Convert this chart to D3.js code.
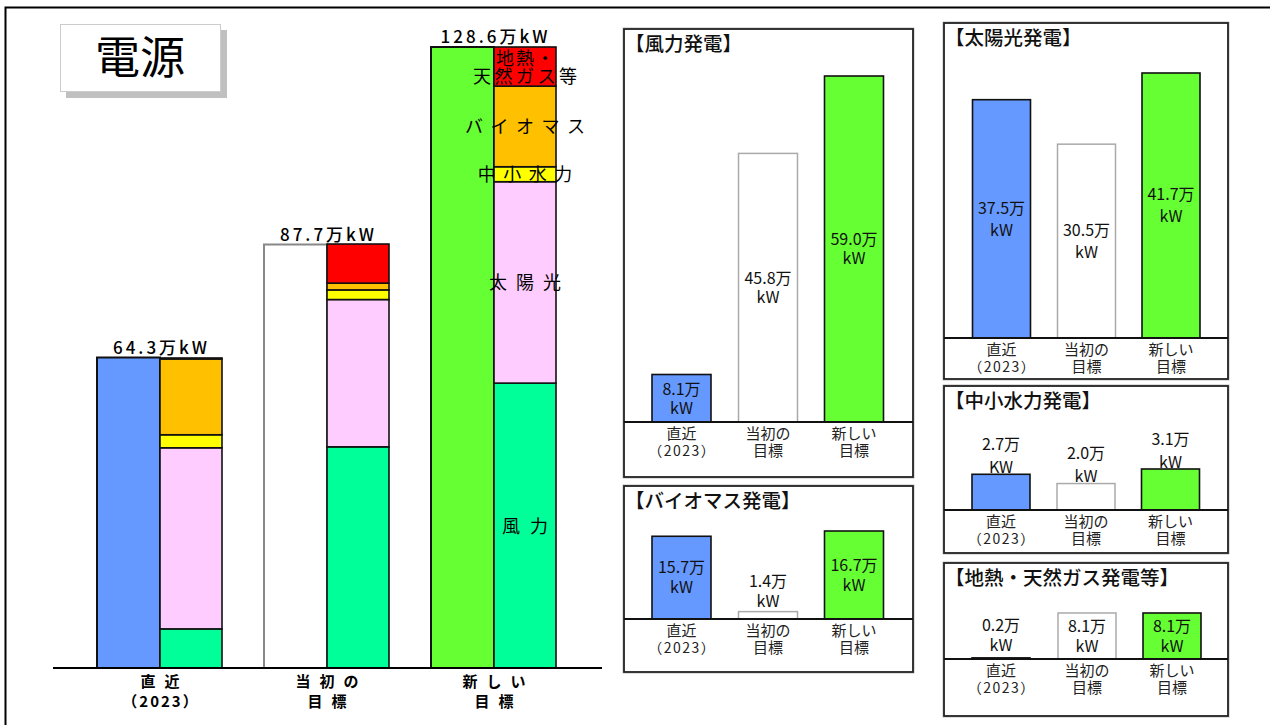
<!DOCTYPE html>
<html><head><meta charset="utf-8">
<script src="https://cdn.jsdelivr.net/npm/d3@7"></script>
<style>
body{margin:0;background:#fff}
svg{display:block}
text{font-family:"Noto Sans CJK JP","Noto Sans",sans-serif;fill:#000}
</style>
</head><body>
<svg id="c" width="1270" height="725"></svg>
<script>
// ---------- data ----------
const categories = ["直近", "当初の目標", "新しい目標"];
const categoryLines = [["直近", "（2023）"], ["当初の", "目標"], ["新しい", "目標"]];
const sources = ["風力", "太陽光", "中小水力", "バイオマス", "地熱・天然ガス等"];
const wind    = [8.1, 45.8, 59.0];
const solar   = [37.5, 30.5, 41.7];
const hydro   = [2.7, 2.0, 3.1];
const biomass = [15.7, 1.4, 16.7];
const geo     = [0.2, 8.1, 8.1];
const totals  = [64.3, 87.7, 128.6];
const hydroUnits = ["KW", "kW", "kW"];

// ---------- styles ----------
const totalColors  = ["#6699FF", "#FFFFFF", "#66FF33"];
const totalStroke  = ["#111", "#888", "#111"];
const sourceColors = ["#00FF99", "#FFCCFF", "#FFFF00", "#FFC000", "#FF0000"];

const svg = d3.select("#c");

// outer frame
svg.append("path").attr("d", "M5.5,730V7.5H1280").attr("fill", "none")
  .attr("stroke", "#000").attr("stroke-width", 2);

// title box
svg.append("rect").attr("x", 66).attr("y", 30).attr("width", 161).attr("height", 68).attr("fill", "#c0c0c0");
svg.append("rect").attr("x", 60.5).attr("y", 24.5).attr("width", 160).attr("height", 67)
  .attr("fill", "#fff").attr("stroke", "#ccc").attr("stroke-width", 1);
svg.append("text").attr("x", 140).attr("y", 58).attr("dy", "0.36em").attr("text-anchor", "middle")
  .style("font-size", "45px").text("電源");

// ---------- main stacked chart ----------
const x = d3.scalePoint().domain(categories).range([160, 494]);
const y = d3.scaleLinear().domain([0, 128.6]).range([668, 47]);
const barW = 62;

const seriesArr = [wind, solar, hydro, biomass, geo];
const table = categories.map((c, i) => {
  const o = {cat: c};
  sources.forEach((s, j) => o[s] = seriesArr[j][i]);
  return o;
});
const stacked = d3.stack().keys(sources)(table);

const main = svg.append("g");

// total bars
main.selectAll("rect.total").data(categories).join("rect").attr("class", "total")
  .attr("x", c => x(c) - barW - 1).attr("width", barW + 1)
  .attr("y", (c, i) => y(totals[i])).attr("height", (c, i) => y(0) - y(totals[i]))
  .attr("fill", (c, i) => totalColors[i]).attr("stroke", (c, i) => totalStroke[i]).attr("stroke-width", 2);

// stacked segments
stacked.forEach((layer, j) => {
  main.selectAll(null).data(layer).join("rect")
    .attr("x", d => x(d.data.cat)).attr("width", barW)
    .attr("y", d => y(d[1])).attr("height", d => Math.max(0, y(d[0]) - y(d[1])))
    .attr("fill", sourceColors[j]).attr("stroke", "#111").attr("stroke-width", 1.6);
});

// baseline
main.append("line").attr("x1", 53).attr("x2", 602).attr("y1", y(0)).attr("y2", y(0))
  .attr("stroke", "#000").attr("stroke-width", 2);

// totals labels
main.selectAll("text.tot").data(categories).join("text").attr("class", "tot")
  .attr("x", c => x(c) + 1.5).attr("y", (c, i) => y(totals[i]) - 4)
  .attr("text-anchor", "middle").style("font-size", "17px").style("letter-spacing", "3px")
  .style("font-weight", "500")
  .text((c, i) => totals[i].toFixed(1) + "万kW");

// category labels
categories.forEach((c, i) => {
  categoryLines[i].forEach((t, k) => {
    const isYear = (i === 0 && k === 1);
    const ls = isYear ? 2 : 9;
    main.append("text").attr("x", x(c) + ls / 2).attr("y", 682 + k * 19.5).attr("dy", "0.36em")
      .attr("text-anchor", "middle").style("font-size", "15px")
      .style("letter-spacing", ls + "px")
      .style("font-weight", "bold").text(t);
  });
});

// segment labels on the new target stack
const segLabels = [["風力"], ["太陽光"], ["中小水力"], ["バイオマス"], ["地熱・", "天然ガス等"]];
const segSpacing = [[10], [9], [7.5], [7.5], [2, 3.5]];
const lastCat = categories[2];
stacked.forEach((layer, j) => {
  const d = layer[2];
  const mid = (y(d[0]) + y(d[1])) / 2;
  const lines = segLabels[j];
  lines.forEach((t, k) => {
    const ls = segSpacing[j][k];
    main.append("text")
      .attr("x", x(lastCat) + barW / 2 + ls / 2)
      .attr("y", mid + 0.5 + (k - (lines.length - 1) / 2) * 18).attr("dy", "0.36em")
      .attr("text-anchor", "middle").style("font-size", "18px").style("letter-spacing", ls + "px")
      .text(t);
  });
});

// ---------- sub panels ----------
const panels = [
  {title: "【風力発電】", values: wind, x0: 624, y0: 29, x1: 913, y1: 477, base: 422, top: 76,
   centers: [681.5, 768, 854], bw: 59, gap: 19, place: ["in", "in", "in"], aboveGap: 10, units: ["kW","kW","kW"]},
  {title: "【バイオマス発電】", values: biomass, x0: 624, y0: 486, x1: 913, y1: 672, base: 619, top: 531,
   centers: [681.5, 768, 854], bw: 59, gap: 20, place: ["in", "above", "in"], aboveGap: 10, units: ["kW","kW","kW"]},
  {title: "【太陽光発電】", values: solar, x0: 944, y0: 23, x1: 1228, y1: 379, base: 338, top: 73,
   centers: [1001.5, 1086.5, 1171], bw: 58, gap: 22, place: ["in", "in", "in"], aboveGap: 10, units: ["kW","kW","kW"]},
  {title: "【中小水力発電】", values: hydro, x0: 944, y0: 386, x1: 1228, y1: 553, base: 510, top: 469,
   centers: [1001, 1086, 1170.5], bw: 58, gap: 23, place: ["above", "above", "above"], aboveGap: 7, units: hydroUnits},
  {title: "【地熱・天然ガス発電等】", values: geo, x0: 944, y0: 563, x1: 1228, y1: 716, base: 659, top: 613,
   centers: [1001, 1087, 1172], bw: 58, gap: 20, place: ["above", "in", "in"], aboveGap: 13, units: ["kW","kW","kW"]}
];

panels.forEach(p => {
  const g = svg.append("g");
  g.append("rect").attr("x", p.x0 - 1).attr("y", p.y0 - 1).attr("width", p.x1 - p.x0 + 2).attr("height", p.y1 - p.y0 + 2)
    .attr("fill", "none").attr("stroke", "#bbb").attr("stroke-width", 1);
  g.append("rect").attr("x", p.x0).attr("y", p.y0).attr("width", p.x1 - p.x0).attr("height", p.y1 - p.y0)
    .attr("fill", "#fff").attr("stroke", "#222").attr("stroke-width", 1.8);
  g.append("text").attr("x", p.x0 + 1).attr("y", p.y0 + 15).attr("dy", "0.36em")
    .style("font-size", "19.5px").style("font-weight", "500").style("fill", "#111").text(p.title);

  const maxV = d3.max(p.values);
  const py = d3.scaleLinear().domain([0, maxV]).range([p.base, p.top]);
  const px = d3.scaleOrdinal().domain(categories).range(p.centers);

  g.selectAll("rect.bar").data(categories).join("rect").attr("class", "bar")
    .attr("x", c => px(c) - p.bw / 2).attr("width", p.bw)
    .attr("y", (c, i) => py(p.values[i])).attr("height", (c, i) => py(0) - py(p.values[i]))
    .attr("fill", (c, i) => totalColors[i]).attr("stroke", (c, i) => i === 1 ? "#aaa" : "#111")
    .attr("stroke-width", (c, i) => i === 1 ? 1.5 : 1.6);

  g.append("line").attr("x1", p.x0).attr("x2", p.x1).attr("y1", p.base).attr("y2", p.base)
    .attr("stroke", "#111").attr("stroke-width", 1.8);

  categories.forEach((c, i) => {
    const v = p.values[i];
    const lines = [v.toFixed(1) + "万", p.units[i]];
    let c1;
    if (p.place[i] === "in") {
      const mid = (py(v) + py(0)) / 2;
      c1 = mid - p.gap / 2;
    } else {
      c1 = py(v) - p.aboveGap - p.gap;
    }
    lines.forEach((t, k) => {
      g.append("text").attr("x", px(c)).attr("y", c1 + k * p.gap).attr("dy", "0.36em")
        .attr("text-anchor", "middle").style("font-size", "16px").style("fill", "#111").text(t);
    });
    categoryLines[i].forEach((t, k) => {
      const isYear = (i === 0 && k === 1);
      g.append("text").attr("x", px(c) + (isYear ? 0.75 : 0)).attr("y", p.base + 11.5 + k * 17.5).attr("dy", "0.36em")
        .attr("text-anchor", "middle").style("font-size", isYear ? "14px" : "15px")
        .style("letter-spacing", isYear ? "1.5px" : "0px")
        .style("fill", "#222").text(t);
    });
  });
});
</script>
</body></html>
